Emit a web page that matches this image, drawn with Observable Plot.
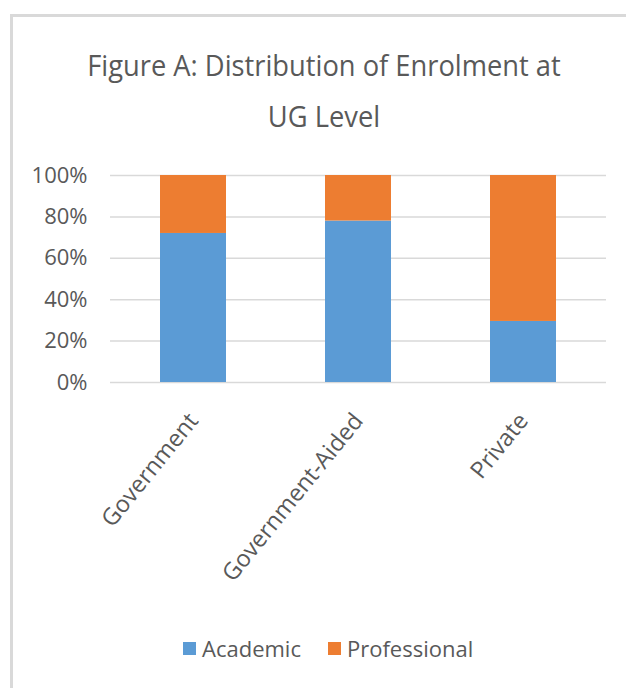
<!DOCTYPE html>
<html>
<head>
<meta charset="utf-8">
<script src="https://cdn.jsdelivr.net/npm/d3@7"></script>
<script src="https://cdn.jsdelivr.net/npm/@observablehq/plot@0.6"></script>
<style>
  html, body { margin: 0; padding: 0; background: #fff; }
  body { width: 626px; height: 688px; position: relative; overflow: hidden; font-family: "Open Sans", sans-serif; color: #595959; }
  #frame { position: absolute; left: 10px; top: 14px; right: -5px; bottom: -5px; border-top: 3px solid #d9d9d9; border-left: 3px solid #d9d9d9; }
  .title { position: absolute; left: 0; width: 648px; text-align: center; font-size: 27.3px; line-height: 51px; white-space: nowrap; transform: scaleY(1.1); transform-origin: 50% 36px; }
  #chart { position: absolute; left: 0; top: 140px; }
  #legend { position: absolute; left: 183px; top: 632px; display: flex; align-items: center; font-size: 22px; line-height: 32px; }
  .sw { width: 13px; height: 13px; display: inline-block; margin-right: 6px; }
  .item { display: flex; align-items: center; margin-right: 27px; }
</style>
</head>
<body>
<div id="frame"></div>
<div class="title" style="top:40px">Figure A: Distribution of Enrolment at</div>
<div class="title" style="top:91px">UG Level</div>
<div id="chart"></div>
<div id="legend"></div>
<script>
const institutions = ["Government", "Government-Aided", "Private"];
const seriesNames = ["Academic", "Professional"];
const academic = [72, 78, 29.5];
const professional = [28, 22, 70.5];
const yTicks = [0, 20, 40, 60, 80, 100];
const colors = ["#5B9BD5", "#ED7D31"];

const rows = [];
institutions.forEach((inst, i) => {
  rows.push({institution: inst, series: seriesNames[0], value: academic[i]});
  rows.push({institution: inst, series: seriesNames[1], value: professional[i]});
});

const plot = Plot.plot({
  width: 626,
  height: 470,
  marginLeft: 110,
  marginRight: 20,
  marginTop: 35,
  marginBottom: 228,
  style: {fontFamily: "'Open Sans', sans-serif", color: "#595959", background: "transparent"},
  x: {domain: institutions, paddingInner: 0.6, paddingOuter: 0.3, label: null},
  y: {domain: [0, 100], ticks: yTicks, label: null},
  color: {domain: seriesNames, range: colors},
  marks: [
    Plot.gridY(yTicks, {stroke: "#d9d9d9", strokeOpacity: 1, strokeWidth: 1.5}),
    Plot.barY(rows, {x: "institution", y: "value", fill: "series"}),
    Plot.axisY(yTicks, {tickSize: 0, tickPadding: 23, tickFormat: d => d + "%", fontSize: 22, fill: "#595959", label: null}),
    Plot.axisX({tickSize: 0, tickRotate: -51, tickPadding: 34, fontSize: 23.5, fill: "#595959", label: null, dx: 0})
  ]
});
document.getElementById("chart").appendChild(plot);

const legend = document.getElementById("legend");
seriesNames.forEach((name, i) => {
  const item = document.createElement("div");
  item.className = "item";
  const sw = document.createElement("span");
  sw.className = "sw";
  sw.style.background = colors[i];
  const t = document.createElement("span");
  t.textContent = name;
  item.appendChild(sw);
  item.appendChild(t);
  legend.appendChild(item);
});
</script>
</body>
</html>
